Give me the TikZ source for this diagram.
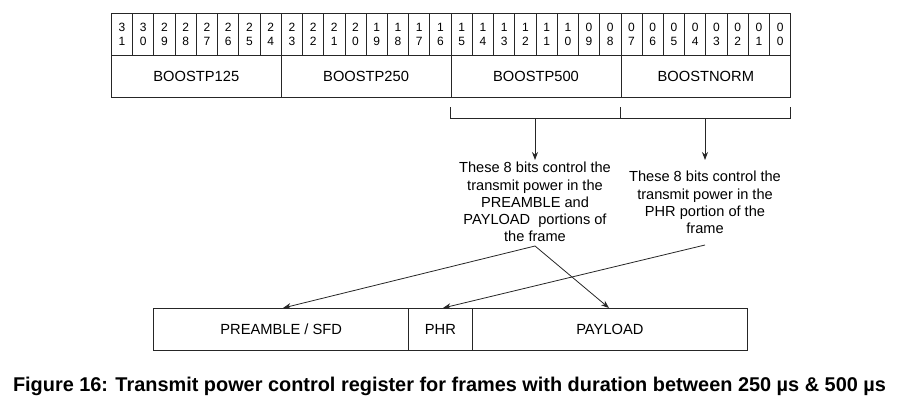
\documentclass[tikz,border=0pt]{standalone}
\usepackage{fontspec}
\setmainfont{Liberation Sans}
\usetikzlibrary{arrows.meta}
\begin{document}
\begin{tikzpicture}[x=1pt,y=-1pt,
  ln/.style={line width=0.8pt,draw=black!85},
  bitcell/.style={ln,draw,minimum width=21.23pt,minimum height=42pt,inner sep=0pt,anchor=north west,align=center,font=\fontsize{12}{14}\selectfont},
  field/.style={ln,draw,minimum width=169.8pt,minimum height=42pt,inner sep=0pt,anchor=north west,font=\fontsize{14.7}{17}\selectfont},
  frame/.style={ln,draw,minimum height=42pt,inner sep=0pt,anchor=north west,font=\fontsize{14.7}{17}\selectfont},
  note/.style={align=center,inner sep=0pt,font=\fontsize{14.6}{17.3}\selectfont},
  arr/.style={ln,-{Stealth[length=8pt,width=6pt]}}]
\useasboundingbox (0,0) rectangle (897,404);
% bit cells
\foreach \i in {0,...,31}{
  \pgfmathtruncatemacro{\b}{31-\i}
  \pgfmathtruncatemacro{\t}{int(\b/10)}
  \pgfmathtruncatemacro{\u}{\b-10*\t}
  \node[bitcell] (b\b) at ({111+\i*21.23},13) {\t\\\u};
}
% fields
\node[field] (f1) at (111,55) {BOOSTP125};
\node[field] (f2) at (280.8,55) {BOOSTP250};
\node[field] (f3) at (450.7,55) {BOOSTP500};
\node[field] (f4) at (620.5,55) {BOOSTNORM};
% brace
\coordinate (bl) at (450.5,107);
\coordinate (bm) at (620.5,107);
\coordinate (br) at (790.3,107);
\coordinate (a1) at (535,118);
\coordinate (a2) at (705,118);
\draw[ln] (bl) -- (450.5,118) -- (790.3,118) -- (br);
\draw[ln] (bm) -- (620.5,118);
% notes
\node[note,anchor=north] (t1) at (535,162) {These 8 bits control the\\transmit power in the\\PREAMBLE and\\PAYLOAD\ \ portions of\\the frame};
\node[note,anchor=north] (t2) at (705,171) {These 8 bits control the\\transmit power in the\\PHR portion of the\\frame};
\draw[arr,shorten >=2pt] (a1) -- (t1.north);
\draw[arr,shorten >=11pt] (a2) -- (t2.north);
% frame
\node[frame,minimum width=255pt] (pre) at (153.3,308) {PREAMBLE / SFD};
\node[frame,minimum width=63.4pt] (phr) at (408.3,308) {PHR};
\node[frame,minimum width=275.6pt] (pay) at (471.7,308) {PAYLOAD};
\coordinate (s1) at (535,246);
\coordinate (s2) at (705,245);
\draw[arr] (s1) -- (283,308);
\draw[arr] (s1) -- (609,308);
\draw[arr] (s2) -- (443,308);
% caption
\node[font=\fontsize{19.9}{22}\selectfont\bfseries] (cap) at (449.5,386) {Figure 16: Transmit power control register for frames with duration between 250 µs \& 500 µs};
\end{tikzpicture}
\end{document}
